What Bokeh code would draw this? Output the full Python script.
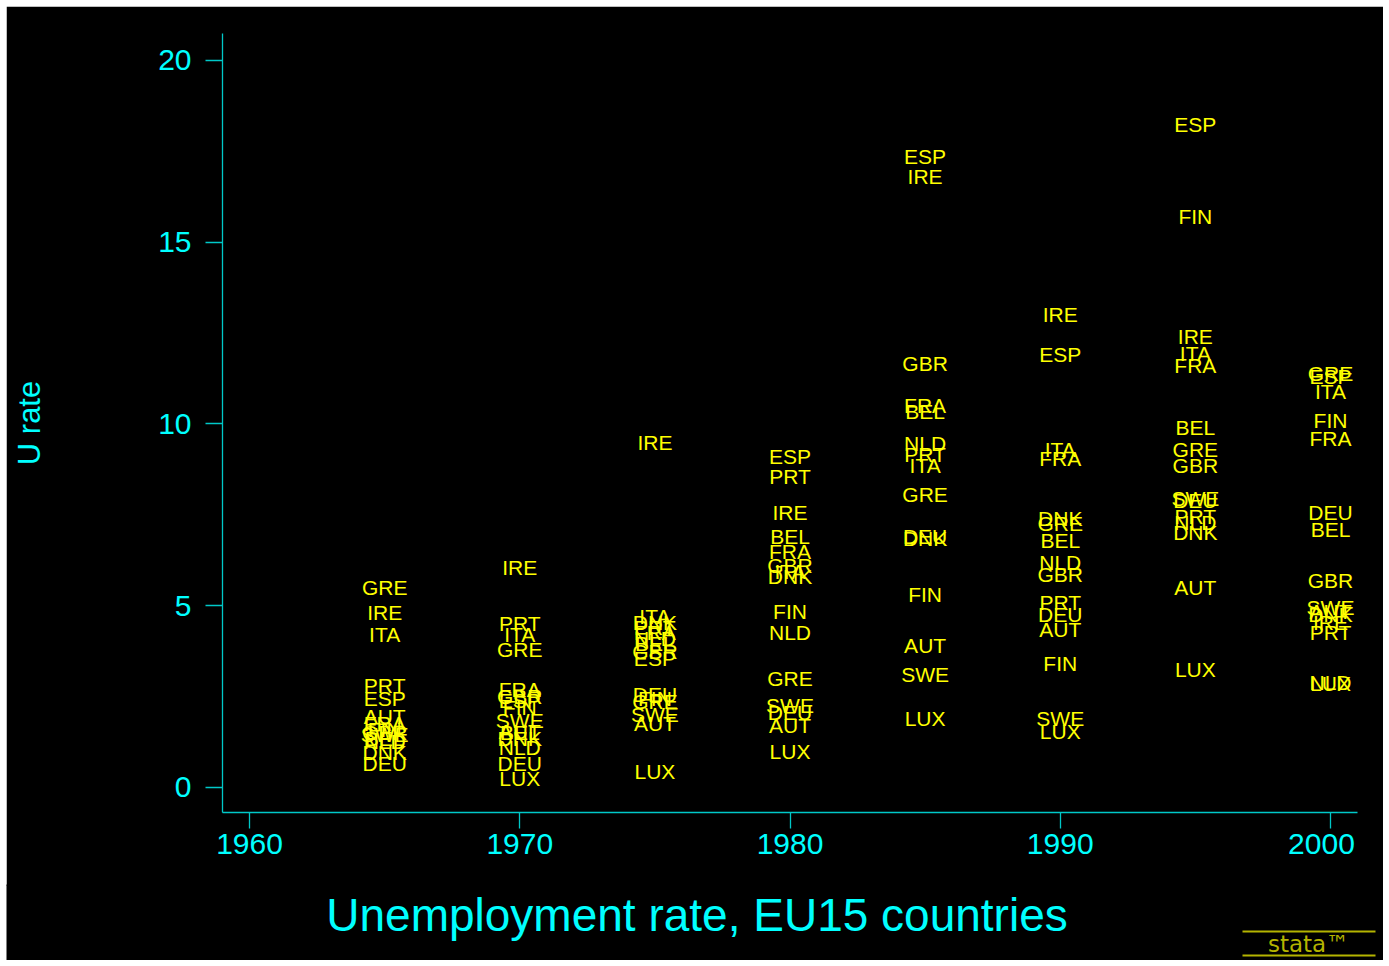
from bokeh.plotting import figure
from bokeh.layouts import column
from bokeh.models import (ColumnDataSource, Range1d, FixedTicker, LinearAxis,
                          NumeralTickFormatter)
from bokeh.core.properties import value
from bokeh.embed import file_html
from bokeh.resources import INLINE

countries = ["AUT", "BEL", "DNK", "FIN", "FRA", "DEU", "GRE", "IRE",
             "ITA", "LUX", "NLD", "PRT", "ESP", "SWE", "GBR"]
years = [1965, 1970, 1975, 1980, 1985, 1990, 1995, 2000]

rate_1965 = [1.95, 1.35, 0.95, 1.6, 1.75, 0.65, 5.5, 4.8, 4.2, None, 1.25, 2.8, 2.45, 1.45, 1.5]
rate_1970 = [1.55, 1.5, 1.35, 2.2, 2.7, 0.65, 3.8, 6.05, 4.2, 0.25, 1.1, 4.5, 2.4, 1.85, 2.5]
rate_1975 = [1.75, 3.95, 4.55, 2.45, 4.25, 2.55, 2.35, 9.5, 4.7, 0.45, 4.1, 4.4, 3.55, 2.0, 3.75]
rate_1980 = [1.7, 6.9, 5.8, 4.85, 6.5, 2.05, 3.0, 7.55, 5.95, 1.0, 4.25, 8.55, 9.1, 2.25, 6.1]
rate_1985 = [3.9, 10.35, 6.85, 5.3, 10.5, 6.9, 8.05, 16.8, 8.85, 1.9, 9.45, 9.15, 17.35, 3.1, 11.65]
rate_1990 = [4.35, 6.8, 7.4, 3.4, 9.05, 4.75, 7.25, 13.0, 9.3, 1.55, 6.2, 5.1, 11.9, 1.9, 5.85]
rate_1995 = [5.5, 9.9, 7.0, 15.7, 11.6, 7.9, 9.3, 12.4, 11.95, 3.25, 7.3, 7.45, 18.25, 7.95, 8.85]
rate_2000 = [4.85, 7.1, 4.75, 10.1, 9.6, 7.55, 11.4, 4.55, 10.9, 2.85, 2.9, 4.25, 11.3, 4.95, 5.7]

x_ticks = [1960, 1970, 1980, 1990, 2000]
y_ticks = [0, 5, 10, 15, 20]

title_text = "Unemployment rate, EU15 countries"
y_title = "U rate"
logo_text = "stata™"

rates_by_year = [rate_1965, rate_1970, rate_1975, rate_1980,
                 rate_1985, rate_1990, rate_1995, rate_2000]
xs, ys, labels = [], [], []
for yr, rates in zip(years, rates_by_year):
    for c, r in zip(countries, rates):
        if r is None:
            continue
        xs.append(yr)
        ys.append(r)
        labels.append(c)
src = ColumnDataSource(dict(x=xs, y=ys, label=labels))

CYAN_TXT = "#00ffff"
CYAN_LN = "#00c8c8"
YEL = "#ffff00"
LOGO = "#b4b400"
FONT = "Liberation Sans"

# ---- geometry (pixels) ----
FIG_W = 1377
H_MAIN = 880
OVERLAP = 2
H_FOOT = 74 + OVERLAP
BL, BR, BT, BB = 216, 26, 27, 74
FW = FIG_W - BL - BR
X0, X1 = 1959.0, 2001.0
Y0, Y1 = -0.69, 20.74
px_per_year = FW / (X1 - X0)
# the last year label is pulled left so it stays inside the axis extent
last_label_shift = 9 / px_per_year
x_label_pos = x_ticks[:-1] + [x_ticks[-1] - last_label_shift]

p = figure(width=FIG_W, height=H_MAIN, output_backend="svg", toolbar_location=None,
           x_range=Range1d(X0, X1), y_range=Range1d(Y0, Y1),
           min_border_left=BL, min_border_right=BR, min_border_top=BT,
           min_border_bottom=BB)
p.margin = (6, 0, 0, 6)
p.frame_align = False
p.background_fill_color = "black"
p.border_fill_color = "black"
p.outline_line_color = "black"
p.outline_line_width = 2
p.grid.visible = False

p.text(x="x", y="y", text="label", source=src, text_align="center",
       text_baseline="middle", text_color=YEL, text_font=value(FONT),
       text_font_size="21px")

# x axis: line and ticks
xa = p.xaxis[0]
xa.ticker = FixedTicker(ticks=x_ticks)
xa.axis_line_color = CYAN_LN
xa.axis_line_width = 1.3
xa.major_tick_line_color = CYAN_LN
xa.major_tick_line_width = 1.3
xa.major_tick_in = 0
xa.major_tick_out = 16
xa.minor_tick_line_color = None
xa.major_label_overrides = {t: "" for t in x_ticks}
xa.major_label_text_font_size = "1px"
xa.major_label_standoff = 0

# x axis: labels
xl = LinearAxis(ticker=FixedTicker(ticks=x_label_pos),
                formatter=NumeralTickFormatter(format="0"))
xl.axis_line_color = None
xl.major_tick_line_color = None
xl.minor_tick_line_color = None
xl.major_tick_in = 0
xl.major_tick_out = 0
xl.major_label_standoff = 5
xl.major_label_text_color = CYAN_TXT
xl.major_label_text_font = FONT
xl.major_label_text_font_size = "30px"
p.add_layout(xl, "below")

ya = p.yaxis[0]
ya.ticker = FixedTicker(ticks=y_ticks)
ya.axis_line_color = CYAN_LN
ya.axis_line_width = 1.3
ya.major_tick_line_color = CYAN_LN
ya.major_tick_line_width = 1.3
ya.major_tick_in = 0
ya.major_tick_out = 17
ya.minor_tick_line_color = None
ya.major_label_standoff = 14
ya.major_label_text_color = CYAN_TXT
ya.major_label_text_font = FONT
ya.major_label_text_font_size = "30px"
ya.axis_label = y_title
ya.axis_label_text_color = CYAN_TXT
ya.axis_label_text_font = FONT
ya.axis_label_text_font_size = "31px"
ya.axis_label_text_font_style = "normal"
ya.axis_label_standoff = 108

# ---- footer: title and logo (coordinates are pixels inside the footer) ----
f = figure(width=FIG_W, height=H_FOOT, output_backend="svg", toolbar_location=None,
           x_range=Range1d(0, FIG_W), y_range=Range1d(H_FOOT, 0),
           x_axis_type=None, y_axis_type=None, min_border=0)
f.margin = (-OVERLAP, 0, 0, 6)
f.frame_align = False
f.background_fill_color = "black"
f.border_fill_color = "black"
f.outline_line_color = None
f.grid.visible = False

f.text(x=[690.5], y=[28 + OVERLAP], text=[title_text], text_align="center",
       text_baseline="alphabetic", text_color=CYAN_TXT, text_font=value(FONT),
       text_font_size="46px")
f.segment(x0=[1236, 1236], y0=[45 + OVERLAP, 69 + OVERLAP],
          x1=[1369, 1369], y1=[45 + OVERLAP, 69 + OVERLAP],
          line_color=LOGO, line_width=2)
f.text(x=[1302], y=[57 + OVERLAP], text=[logo_text], text_align="center",
       text_baseline="middle", text_color=LOGO, text_font=value("DejaVu Sans"),
       text_font_size="23px")

layout = column(p, f, spacing=0)
open("out.html", "w").write(file_html(layout, INLINE))
